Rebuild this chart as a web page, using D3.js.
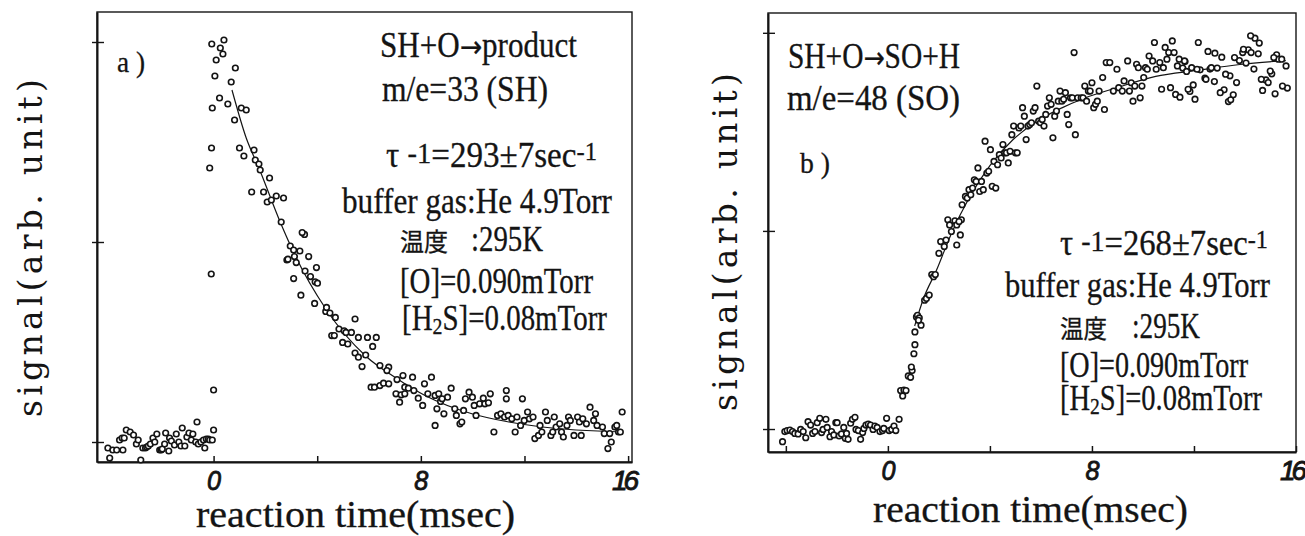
<!DOCTYPE html>
<html>
<head>
<meta charset="utf-8">
<script src="https://cdn.jsdelivr.net/npm/d3@7"></script>
<style>
  html, body { margin: 0; padding: 0; background: #fff; }
  svg { display: block; }
</style>
</head>
<body>
<svg id="chart" width="1305" height="536"></svg>
<script>
// ---- a) SH + O -> product, m/e = 33 (SH): measured signal vs reaction time (ms)
const shTime = [
  -4.08,-4.01,-3.89,-3.74,-3.63,-3.53,-3.50,-3.45,-3.37,-3.22,-3.09,-2.98,-2.91,-2.81,-2.73,-2.63,-2.58,-2.52,-2.44,-2.34,
  -2.27,-2.19,-2.08,-2.02,-1.98,-1.89,-1.85,-1.73,-1.70,-1.63,-1.51,-1.44,-1.34,-1.26,-1.21,-1.11,-1.03,-0.95,-0.86,-0.80,
  -0.69,-0.64,-0.59,-0.49,-0.39,-0.34,-0.28,-0.20,-0.15,-0.05,0.00,0.00,
  -0.09,-0.15,-0.08,-0.05,-0.07,0.05,0.10,0.23,0.26,0.36,0.40,0.55,0.68,0.81,0.84,1.00,1.07,1.17,1.26,1.47,1.56,1.61,1.75,
  1.80,1.93,2.07,2.16,2.23,2.42,2.61,2.70,2.83,
  2.87,3.12,2.96,3.09,3.33,3.67,3.51,3.42,3.19,3.09,3.53,3.74,3.97,3.92,4.01,3.37,3.90,4.33,4.49,4.70,5.46,4.36,4.56,4.66,
  4.84,5.04,4.98,5.18,5.11,5.32,5.59,5.94,6.28,6.14,5.46,5.59,5.73,5.87,6.42,6.76,6.69,7.31,7.68,8.41,6.08,6.21,6.42,6.56,
  6.76,7.08,7.38,7.52,7.73,7.90,8.07,8.14,7.04,7.24,7.38,7.18,8.27,8.55,8.69,9.03,9.17,8.76,8.82,8.62,8.55,8.89,9.31,9.37,
  9.51,9.58,9.65,9.72,9.86,9.99,10.06,10.13,10.27,10.47,10.41,10.68,10.61,10.82,10.96,11.09,11.23,11.30,11.30,11.37,11.51,
  11.64,11.71,11.85,11.92,11.99,12.12,12.19,12.33,12.40,12.54,12.67,12.60,12.81,12.88,13.02,13.09,13.15,13.22,13.36,13.43,
  13.50,13.64,13.70,13.77,13.91,14.05,14.12,14.19,14.25,14.39,14.53,14.67,14.74,14.80,15.01,15.08,15.22,15.29,15.35,15.49,
  15.56,15.63,15.77,15.70
];
const shSignal = [
  -0.03,-0.08,-0.04,-0.04,0.01,0.02,-0.04,0.02,0.06,0.05,0.035,-0.01,0.01,-0.09,-0.03,-0.03,-0.025,-0.02,-0.01,0.02,
  0.00,0.04,-0.04,-0.04,-0.035,-0.01,0.045,-0.045,0.02,0.005,-0.015,0.04,0.00,-0.02,0.07,-0.02,0.025,0.045,0.01,0.04,
  0.00,0.10,-0.01,0.00,0.01,-0.03,0.015,0.015,0.01,0.01,0.06,0.26,
  0.84,1.37,1.47,1.67,1.99,1.83,1.91,1.72,1.97,1.94,2.01,1.69,1.80,1.61,1.87,1.47,1.67,1.43,1.66,1.25,1.46,1.41,1.39,
  1.36,1.25,1.20,1.32,1.21,1.23,1.10,1.22,0.91,
  0.914,0.927,0.980,0.960,0.955,0.927,1.038,1.047,0.897,0.817,0.855,0.827,0.872,0.801,0.794,0.734,0.693,0.653,0.645,0.623,
  0.615,0.673,0.532,0.532,0.565,0.556,0.498,0.490,0.548,0.548,0.523,0.523,0.523,0.478,0.445,0.424,0.377,0.435,0.382,0.374,
  0.357,0.332,0.324,0.324,0.274,0.274,0.282,0.294,0.291,0.312,0.274,0.269,0.257,0.219,0.183,0.291,0.241,0.236,0.241,0.199,
  0.241,0.233,0.241,0.224,0.269,0.203,0.216,0.166,0.083,0.141,0.166,0.133,0.091,0.100,0.158,0.216,0.249,0.224,0.183,0.133,
  0.191,0.191,0.219,0.241,0.196,0.050,0.133,0.141,0.125,0.257,0.216,0.133,0.116,0.050,0.125,0.083,0.216,0.108,0.150,0.116,
  0.125,0.017,0.033,0.050,0.083,0.150,0.108,0.033,0.050,0.125,0.075,0.091,0.050,0.025,0.083,0.125,0.108,0.033,0.125,0.100,
  0.033,0.116,0.091,0.174,0.108,0.141,0.083,0.075,0.042,-0.033,0.042,0.000,0.075,0.083,0.050,0.150,0.050
];
// least-squares decay curve, tau^-1 = 293 s^-1
const shFitTime   = [0.71, 1.26, 1.75, 2.57, 3.12, 4.36, 5.87, 7.04, 8.20, 10.0, 11.4, 12.7, 15.8];
const shFitSignal = [1.76, 1.52, 1.37, 1.10, 0.94, 0.66, 0.43, 0.32, 0.23, 0.14, 0.10, 0.075, 0.05];

// ---- b) SH + O -> SO + H, m/e = 48 (SO)
const soTime = [
  -4.13,-4.04,-3.95,-3.84,-3.74,-3.65,-3.52,-3.42,-3.32,-3.22,-3.13,-3.03,-2.95,-2.86,-2.77,-2.67,-2.60,-2.54,-2.43,-2.38,
  -2.27,-2.21,-2.12,-2.04,-1.99,-1.91,-1.82,-1.73,-1.67,-1.62,-1.56,-1.46,-1.39,-1.29,-1.25,-1.16,-1.07,-0.99,-0.94,-0.86,
  -0.77,-0.68,-0.58,-0.51,-0.42,-0.31,-0.21,-0.16,-0.05,0.05,0.15,0.24,0.31,0.44,0.50,0.58,0.63,0.71,0.80,0.89,0.95,
  0.92,1.02,1.06,1.06,1.12,1.16,1.23,1.30,1.20,1.44,1.51,1.62,1.72,1.79,1.86,2.00,2.07,2.21,2.28,2.35,2.42,2.49,2.63,2.70,
  2.84,2.88,2.91,2.79,2.70,3.04,3.11,3.18,3.25,3.32,3.39,3.46,3.53,3.60,3.67,3.74,3.81,3.88,3.95,4.02,4.09,4.16,4.23,4.30,
  4.37,4.44,4.51,4.58,4.65,4.72,4.79,4.86,4.93,5.00,5.07,5.14,5.21,5.28,5.35,5.42,5.49,5.56,5.63,5.70,5.77,5.84,5.91,5.98,
  6.05,6.12,6.19,6.26,6.33,6.40,6.47,6.54,6.61,6.68,6.75,6.82,6.89,6.96,7.03,7.09,7.16,7.23,7.30,7.35,7.44,7.58,7.65,7.72,
  7.79,7.86,7.93,8.00,8.07,8.14,8.21,8.28,8.42,8.49,8.56,8.70,8.84,8.98,9.05,9.19,9.26,9.40,9.47,9.54,9.61,9.68,9.75,9.82,
  9.89,9.96,10.03,10.10,10.17,10.24,10.38,10.45,10.52,10.66,10.73,10.80,10.87,10.94,11.01,11.08,11.15,11.22,11.28,11.35,
  11.42,
  11.45,11.56,11.65,11.71,11.84,11.97,12.04,12.17,12.24,12.43,12.55,12.63,12.80,12.82,12.91,13.09,13.18,13.35,13.41,13.44,
  13.54,13.67,13.78,13.91,14.04,14.13,14.24,14.35,14.39,14.52,14.56,14.69,14.82,14.91,15.05,15.18,15.24,15.31,15.44,15.61,
  15.66,11.63,11.77,11.91,12.12,12.47,12.68,13.03,13.24,13.59,13.94,14.22,14.64,14.99,15.13,15.47
];
const soSignal = [
  -0.064,-0.013,-0.008,-0.005,-0.013,-0.022,-0.025,-0.002,-0.013,-0.044,0.037,0.020,-0.022,-0.013,0.032,0.054,-0.018,-0.002,
  0.049,0.008,-0.039,-0.013,-0.030,0.032,0.032,-0.035,-0.025,0.008,-0.047,-0.022,-0.052,0.029,0.049,0.059,-0.002,-0.008,
  -0.052,-0.018,0.003,0.020,0.025,0.020,-0.002,0.015,0.008,-0.013,-0.008,0.003,0.054,-0.008,-0.002,0.015,-0.008,0.049,
  0.194,0.167,0.197,0.194,0.268,0.261,0.295,
  0.313,0.380,0.426,0.490,0.566,0.574,0.561,0.524,0.549,0.650,0.659,0.676,0.780,0.769,0.780,0.887,0.946,0.921,0.954,1.056,
  1.030,0.997,1.051,1.030,0.980,1.056,1.132,1.047,0.929,1.174,1.166,1.208,1.182,1.216,1.258,1.250,1.318,1.199,1.250,1.208,
  1.453,1.292,1.301,1.410,1.225,1.351,1.216,1.334,1.385,1.368,1.436,1.394,1.394,1.343,1.402,1.486,1.529,1.394,1.394,1.520,
  1.529,1.622,1.579,1.461,1.529,1.537,1.546,1.605,1.622,1.731,1.554,1.546,1.563,1.529,1.588,1.630,1.672,1.639,1.470,1.579,
  1.605,1.655,1.706,1.655,1.664,1.698,1.588,1.537,1.672,1.672,1.900,1.486,1.672,1.672,1.672,1.731,1.655,1.706,1.706,1.748,
  1.622,1.639,1.655,1.706,1.774,1.613,1.850,1.850,1.706,1.816,1.723,1.706,1.757,1.858,1.706,1.748,1.655,1.731,1.841,1.824,
  1.672,1.731,1.774,1.824,1.816,1.883,1.858,1.951,1.816,1.850,1.715,1.824,1.926,1.867,1.900,1.723,1.959,1.900,1.689,1.833,
  1.867,
  1.675,1.822,1.855,1.805,1.704,1.737,1.665,1.951,1.813,1.771,1.906,1.817,1.754,1.897,1.822,1.877,1.712,1.653,1.783,1.662,
  1.687,1.749,1.860,1.900,1.847,1.914,1.900,1.817,1.973,1.894,1.948,1.709,1.762,1.749,1.793,1.692,1.889,1.867,1.867,1.833,
  1.721,1.858,1.715,1.824,1.816,1.765,1.824,1.698,1.791,1.875,1.917,1.985,1.765,1.807,1.875,1.731
];
// least-squares rise curve, tau^-1 = 268 s^-1
const soFitTime   = [1.05, 1.40, 1.90, 2.50, 3.20, 4.00, 4.90, 5.80, 6.80, 7.70, 8.90, 10.5, 12.1, 13.8, 15.6];
const soFitSignal = [0.52, 0.66, 0.80, 0.99, 1.17, 1.33, 1.46, 1.55, 1.62, 1.67, 1.72, 1.78, 1.81, 1.84, 1.86];

// axis ticks
const xTickValues = [-4, 0, 4, 8, 12, 16];
const xTickLabels = [0, 8, 16];
const yTickValues = [0, 1, 2];

const ink = "#141414";
const serif = "'Liberation Serif', 'DejaVu Serif', serif";
const sans = "'DejaVu Sans', sans-serif";
const cjk = "'Noto Sans CJK JP', 'Noto Sans CJK SC', sans-serif";
const svg = d3.select("#chart");

function drawPanel(x, y, time, signal, fitTime, fitSignal) {
  const g = svg.append("g");
  const [x0, x1] = x.range();
  const [yb, yt] = y.range();

  // box
  g.append("rect")
    .attr("x", x0).attr("y", yt)
    .attr("width", x1 - x0).attr("height", yb - yt)
    .attr("fill", "none").attr("stroke", ink).attr("stroke-width", 1.4);

  // bottom axis
  const gx = g.append("g")
    .attr("transform", `translate(0,${yb})`)
    .call(d3.axisBottom(x).tickValues(xTickValues)
      .tickSizeInner(-6).tickSizeOuter(0).tickPadding(8)
      .tickFormat(d => xTickLabels.includes(d) ? String(d) : ""));
  gx.select(".domain").attr("stroke", ink).attr("stroke-width", 2.2);
  gx.selectAll(".tick line").attr("stroke", ink).attr("stroke-width", 1.5);
  gx.selectAll(".tick text")
    .attr("fill", ink)
    .attr("stroke", ink).attr("stroke-width", 0.9)
    .attr("font-family", "'Liberation Sans', 'DejaVu Sans', sans-serif")
    .attr("font-style", "italic")
    .attr("font-size", 28)
    .attr("y", 28)
    .attr("dy", 0)
    .attr("letter-spacing", d => d >= 10 ? -4 : 0)
    .attr("dx", d => d >= 10 ? -5 : 0)
    .each(function (d) {
      if (d < 10) d3.select(this).attr("textLength", 14).attr("lengthAdjust", "spacingAndGlyphs");
    });

  // left axis
  const gy = g.append("g")
    .attr("transform", `translate(${x0},0)`)
    .call(d3.axisLeft(y).tickValues(yTickValues).tickSizeOuter(0).tickFormat(""));
  gy.select(".domain").attr("stroke", ink).attr("stroke-width", 2);
  gy.selectAll(".tick line").attr("x1", -5).attr("x2", 7)
    .attr("stroke", ink).attr("stroke-width", 1.4);

  // fitted curve
  const line = d3.line()
    .x((d, i) => x(fitTime[i]))
    .y((d, i) => y(fitSignal[i]))
    .curve(d3.curveMonotoneX);
  g.append("path").datum(fitTime)
    .attr("d", line)
    .attr("fill", "none").attr("stroke", ink).attr("stroke-width", 1.2);

  // measured points
  g.append("g").selectAll("circle")
    .data(d3.range(time.length))
    .join("circle")
    .attr("cx", i => x(time[i]))
    .attr("cy", i => y(signal[i]))
    .attr("r", 2.8)
    .attr("fill", "#fff")
    .attr("stroke", ink)
    .attr("stroke-width", 1.6);
  return g;
}

// text helper: parts = [[text, dy, size, family], ...]
function note(x, y, parts, width, size = 35, family = serif) {
  const t = svg.append("text")
    .attr("x", x).attr("y", y)
    .attr("font-family", family)
    .attr("font-size", size)
    .attr("fill", ink)
    .attr("stroke", ink).attr("stroke-width", 0.3);
  parts.forEach(([s, dy, fs, fam]) => {
    const sp = t.append("tspan").text(s);
    if (dy) sp.attr("dy", dy);
    if (fs) sp.attr("font-size", fs);
    if (fam) sp.attr("font-family", fam);
  });
  if (width) t.attr("textLength", width).attr("lengthAdjust", "spacingAndGlyphs");
  return t;
}

function yTitle(cx, cy) {
  svg.append("text")
    .attr("transform", `translate(${cx},${cy}) rotate(-90)`)
    .attr("text-anchor", "middle")
    .attr("font-family", "'DejaVu Serif', 'Liberation Serif', serif")
    .attr("font-size", 33)
    .attr("fill", ink)
    .attr("textLength", 338)
    .attr("lengthAdjust", "spacing")
    .text("signal(arb. unit)");
}

// ---- panel a
const xA = d3.scaleLinear().domain([-4.5, 16.15]).range([97, 632]);
const yA = d3.scaleLinear().domain([-0.1, 2.15]).range([462, 12]);
drawPanel(xA, yA, shTime, shSignal, shFitTime, shFitSignal);

note(117, 72, [["a )"]], 28, 30);
note(380, 57, [["SH+O"], ["→", 0, 30, sans], ["product"]], 197);
note(382, 101, [["m/e=33 (SH)"]], 166);
note(386, 167, [["τ "], ["-1", -4, 30], ["=293±7sec", 4], ["-1", -7, 26]], 211);
note(342, 213, [["buffer gas:He 4.9Torr"]], 270);
note(400, 251, [["温度"]], 48, 25, cjk);
note(471, 251, [[":295K"]], 72);
note(400, 293, [["[O]=0.090mTorr"]], 193);
note(402, 330, [["[H"], ["2", 4, 24], ["S]=0.08mTorr", -4]], 205);
note(196, 527, [["reaction time(msec)"]], 319, 38);
yTitle(42, 248);

// ---- panel b
const xB = d3.scaleLinear().domain([-4.7, 16.0]).range([768, 1296]);
const yB = d3.scaleLinear().domain([-0.116, 2.10]).range([452, 13]);
drawPanel(xB, yB, soTime, soSignal, soFitTime, soFitSignal);

note(788, 68, [["SH+O"], ["→", 0, 30, sans], ["SO+H"]], 172);
note(787, 110, [["m/e=48 (SO)"]], 173);
note(800, 173, [["b )"]], 30, 30);
note(1060, 255, [["τ "], ["-1", -4, 30], ["=268±7sec", 4], ["-1", -7, 26]], 208);
note(1005, 297, [["buffer gas:He 4.9Torr"]], 265);
note(1060, 338, [["温度"]], 47, 25, cjk);
note(1132, 338, [[":295K"]], 68);
note(1060, 377, [["[O]=0.090mTorr"]], 188);
note(1060, 410, [["[H"], ["2", 4, 24], ["S]=0.08mTorr", -4]], 202);
note(873, 522, [["reaction time(msec)"]], 315, 38);
yTitle(737, 242);
</script>
</body>
</html>
